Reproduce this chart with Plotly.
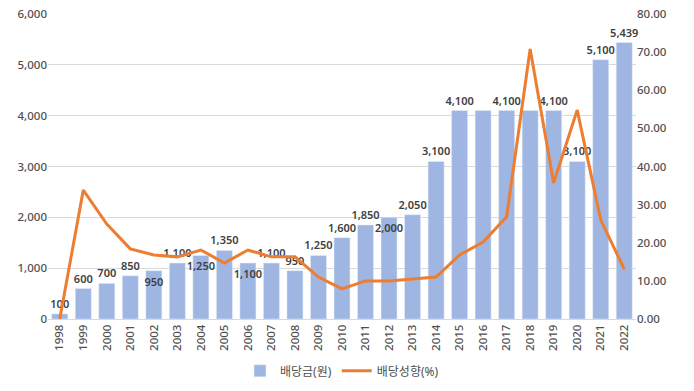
import plotly.graph_objects as go

years = [str(y) for y in range(1998, 2023)]
dividend = [100, 600, 700, 850, 950, 1100, 1250, 1350, 1100, 1100, 950, 1250, 1600,
            1850, 2000, 2050, 3100, 4100, 4100, 4100, 4100, 4100, 3100, 5100, 5439]
payout = [0.0, 33.8, 24.9, 18.4, 16.8, 16.3, 18.1, 14.7, 18.1, 16.3, 16.3, 11.0, 7.9,
          10.0, 10.0, 10.5, 11.0, 16.8, 20.2, 26.8, 70.8, 35.7, 54.8, 26.0, 13.1]
# which labels are shown and where (inside = just below bar top)
label_pos = ["outside", "outside", "outside", "outside", "inside", "outside", "inside",
             "outside", "inside", "outside", "outside", "outside", "outside", "outside",
             "inside", "outside", "outside", "outside", "none", "outside", "none",
             "outside", "outside", "outside", "outside"]

labels = ["" if p == "none" else f"{v:,}" for v, p in zip(dividend, label_pos)]
positions = ["outside" if p == "none" else p for p in label_pos]

font_family = "Noto Sans, Noto Sans CJK KR, sans-serif"
tick_color = "#505050"
label_font = dict(family=font_family, size=11, color="#404040", weight=600)
tick_font = dict(family=font_family, size=11.5, color=tick_color, weight=500)

fig = go.Figure()
fig.add_trace(go.Bar(
    x=years, y=dividend, name="배당금(원)",
    marker_color="#9fb6e2",
    text=labels, textposition=positions, insidetextanchor="end",
    textangle=0, constraintext="none", cliponaxis=False,
    textfont=label_font, insidetextfont=label_font, outsidetextfont=label_font,
))
fig.add_trace(go.Scatter(
    x=years, y=payout, name="배당성향(%)", yaxis="y2",
    mode="lines", line=dict(color="#ED7D31", width=3),
))

fig.update_layout(
    width=694, height=391,
    margin=dict(l=48, r=58, t=14, b=72, autoexpand=False),
    plot_bgcolor="white", paper_bgcolor="white",
    bargap=0.32,
    font=dict(family=font_family, size=11, color=tick_color),
    uniformtext=dict(minsize=11, mode="show"),
    xaxis=dict(
        type="category", tickangle=-90, showgrid=False, ticks="",
        showline=True, linecolor="#d9d9d9", linewidth=1, automargin=False,
        tickfont=tick_font,
    ),
    yaxis=dict(
        range=[0, 6000], dtick=1000, tickformat=",", showgrid=True,
        gridcolor="#d9d9d9", gridwidth=1, zeroline=False, ticks="", automargin=False,
        tickfont=tick_font,
    ),
    yaxis2=dict(
        range=[0, 80], dtick=10, tickformat=".2f", overlaying="y", side="right",
        showgrid=False, zeroline=False, ticks="", automargin=False,
        tickfont=tick_font,
    ),
    legend=dict(
        orientation="h", x=0.5, xanchor="center", y=-0.17, yanchor="middle",
        font=dict(family=font_family, size=12, color=tick_color),
        traceorder="normal",
    ),
)

fig.write_html("out.html",
               config={"displayModeBar": False},
               post_script="document.body.style.margin='0';document.body.style.overflow='hidden';")
